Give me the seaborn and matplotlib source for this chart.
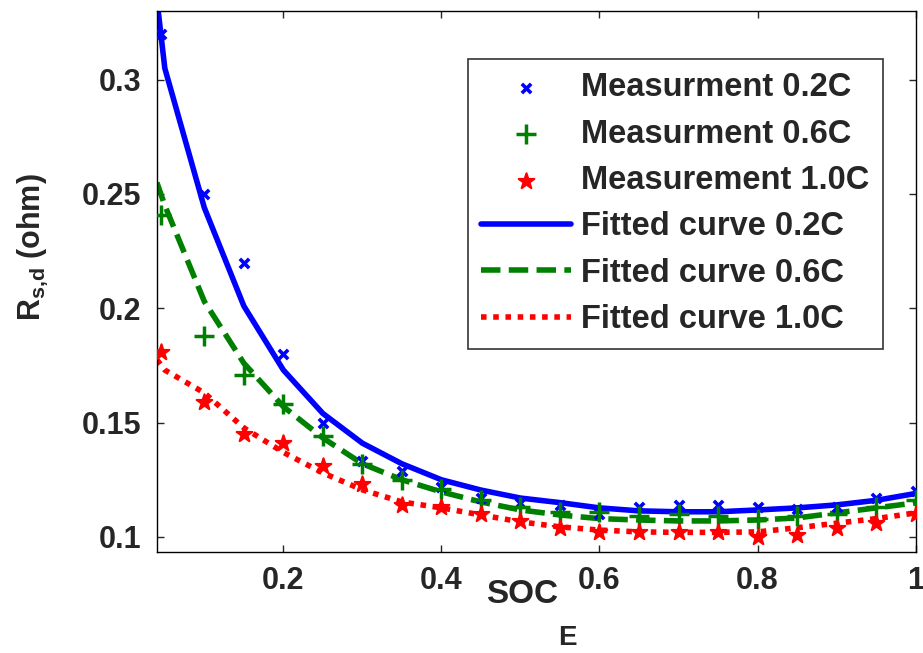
import numpy as np
import pandas as pd
import matplotlib
matplotlib.use("Agg")
import matplotlib.pyplot as plt
import seaborn as sns

# ---------------------------------------------
# data
# ---------------------------------------------
soc_meas = [0.045, 0.10, 0.15, 0.20, 0.25, 0.30, 0.35, 0.40, 0.45, 0.50,
            0.55, 0.60, 0.65, 0.70, 0.75, 0.80, 0.85, 0.90, 0.95, 1.00]
meas_02 = [0.320, 0.250, 0.220, 0.180, 0.150, 0.133, 0.129, 0.122, 0.117, 0.115,
           0.114, 0.110, 0.113, 0.114, 0.114, 0.113, 0.112, 0.113, 0.117, 0.120]
meas_06 = [0.241, 0.188, 0.171, 0.158, 0.144, 0.132, 0.125, 0.121, 0.116, 0.113,
           0.111, 0.111, 0.109, 0.110, 0.109, 0.108, 0.109, 0.110, 0.113, 0.116]
meas_10 = [0.181, 0.159, 0.145, 0.141, 0.131, 0.123, 0.114, 0.113, 0.110, 0.107,
           0.104, 0.102, 0.102, 0.102, 0.102, 0.100, 0.101, 0.104, 0.106, 0.110]

soc_fit = [0.04, 0.05, 0.10, 0.15, 0.20, 0.25, 0.30, 0.35, 0.40, 0.45, 0.50,
           0.55, 0.60, 0.65, 0.70, 0.75, 0.80, 0.85, 0.90, 0.95, 1.00]
fit_02 = [0.335, 0.305, 0.244, 0.201, 0.173, 0.154, 0.141, 0.132, 0.125, 0.1205, 0.117,
          0.115, 0.1127, 0.1114, 0.111, 0.111, 0.1118, 0.1127, 0.114, 0.116, 0.119]
fit_06 = [0.255, 0.245, 0.203, 0.176, 0.157, 0.1433, 0.132, 0.125, 0.1197, 0.1153, 0.1118,
          0.1096, 0.108, 0.1074, 0.107, 0.107, 0.1074, 0.1083, 0.1105, 0.1127, 0.1149]
fit_10 = [0.1775, 0.173, 0.163, 0.1477, 0.137, 0.128, 0.1206, 0.1153, 0.1127, 0.1096, 0.1066,
          0.1044, 0.103, 0.1022, 0.102, 0.102, 0.1022, 0.104, 0.106, 0.108, 0.1105]

x_ticks = [0.2, 0.4, 0.6, 0.8, 1.0]
x_tick_labels = ["0.2", "0.4", "0.6", "0.8", "1"]
y_ticks = [0.1, 0.15, 0.2, 0.25, 0.3]
y_tick_labels = ["0.1", "0.15", "0.2", "0.25", "0.3"]

# ---------------------------------------------
# style
# ---------------------------------------------
sns.set_style("ticks")
plt.rcParams['font.family'] = ['Liberation Sans', 'DejaVu Sans']
plt.rcParams['font.weight'] = 'bold'
plt.rcParams['mathtext.fontset'] = 'custom'
plt.rcParams['mathtext.rm'] = 'Liberation Sans:bold'
plt.rcParams['mathtext.bf'] = 'Liberation Sans:bold'
plt.rcParams['mathtext.default'] = 'bf'

fig = plt.figure(figsize=(9.23, 6.53), dpi=100)
ax = fig.add_axes([0.170, 0.155, 0.822, 0.828])

# ---------------------------------------------
# measurements
# ---------------------------------------------
sns.scatterplot(x=soc_meas, y=meas_02, ax=ax, marker='x', color='blue', s=45,
                linewidth=2.6, label='Measurment 0.2C', zorder=3)
sns.scatterplot(x=soc_meas, y=meas_06, ax=ax, marker='+', color='green', s=220,
                linewidth=2.5, label='Measurment 0.6C', zorder=3)
sns.scatterplot(x=soc_meas, y=meas_10, ax=ax, marker='*', color='red', s=140,
                edgecolor='red', linewidth=1.5, label='Measurement 1.0C', zorder=3)

# ---------------------------------------------
# fitted curves
# ---------------------------------------------
sns.lineplot(x=soc_fit, y=fit_02, ax=ax, color='blue', linewidth=4,
             label='Fitted curve 0.2C', zorder=2)
sns.lineplot(x=soc_fit, y=fit_06, ax=ax, color='green', linewidth=4,
             label='Fitted curve 0.6C', zorder=2)
sns.lineplot(x=soc_fit, y=fit_10, ax=ax, color='red', linewidth=4,
             label='Fitted curve 1.0C', zorder=2)
lines = ax.get_lines()
lines[1].set_linestyle((0, (3.5, 1.5)))
lines[2].set_linestyle((0, (1, 1.2)))
lines[2].set_dash_capstyle('butt')

# ---------------------------------------------
# axes
# ---------------------------------------------
ax.set_xlim(0.04, 1.0)
ax.set_ylim(0.0935, 0.33)
ax.set_xticks(x_ticks)
ax.set_xticklabels(x_tick_labels)
ax.set_yticks(y_ticks)
ax.set_yticklabels(y_tick_labels)
ax.tick_params(direction='in', length=5, width=1, top=True, right=True,
               labelsize=22)
ax.tick_params(axis='x', pad=10)
ax.tick_params(axis='y', pad=11)
for lab in ax.get_xticklabels() + ax.get_yticklabels():
    lab.set_fontweight('bold')
for sp in ax.spines.values():
    sp.set_linewidth(1)
    sp.set_color('black')

# x label: "SOC" with a large, deeply lowered "E" as in the original
ax.set_xlabel('SOC', fontsize=24, fontweight='bold')
ax.xaxis.set_label_coords(0.481, -0.050)
ax.annotate('E', xy=(1, 0), xycoords=ax.xaxis.label, xytext=(0, -11),
            textcoords='offset points', ha='left', va='top',
            fontsize=20, fontweight='bold', annotation_clip=False)

ax.set_ylabel(r'R$_{\mathbf{s{,}d}}$ (ohm)', fontsize=22, fontweight='bold')
ax.yaxis.set_label_coords(-0.141, 0.564)

handles, labels = ax.get_legend_handles_labels()
leg = ax.legend(handles, labels, loc='upper right', bbox_to_anchor=(0.957, 0.912),
                fontsize=23.5, frameon=True, fancybox=False, edgecolor='black',
                handlelength=2.75, labelspacing=0.47, borderpad=0.42,
                handletextpad=0.3, borderaxespad=0)
leg.get_frame().set_linewidth(1.2)
for t in leg.get_texts():
    t.set_fontweight('bold')

plt.savefig("out.png", dpi=100)
